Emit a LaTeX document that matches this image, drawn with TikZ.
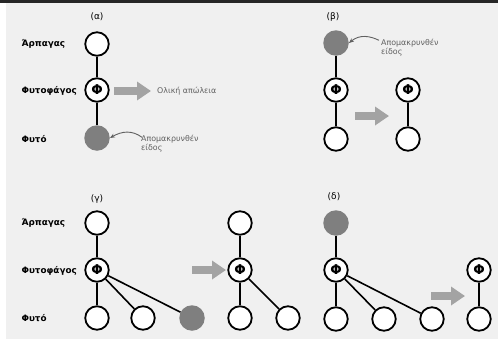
\documentclass[tikz,border=0pt]{standalone}
\usepackage{fontspec}
\setmainfont{DejaVu Sans}
\usetikzlibrary{arrows.meta}
\definecolor{bg}{HTML}{F0F0F0}
\definecolor{fillg}{HTML}{7F7F7F}
\definecolor{arrg}{HTML}{A3A3A3}
\definecolor{txtg}{HTML}{606060}
\tikzset{
  sp/.style={circle, draw=black, line width=1.8pt, minimum size=23.5pt, inner sep=0pt, fill=white},
  gone/.style={circle, fill=fillg, minimum size=25.5pt, inner sep=0pt},
  herb/.style={sp, font=\bfseries\fontsize{13.5}{13.5}\selectfont, text depth=0pt},
  lvl/.style={anchor=west, font=\bfseries\fontsize{8.8}{9}\selectfont},
  ptag/.style={font=\fontsize{9}{9}\selectfont},
  note/.style={anchor=west, align=left, text=txtg, font=\fontsize{7.9}{9}\selectfont, inner sep=0pt},
  link/.style={line width=1.6pt},
  bigarrow/.style={draw=arrg, line width=8pt, -{Triangle[length=14pt,width=18pt]}},
  curv/.style={draw=txtg, line width=0.9pt, -{Stealth[length=5pt,width=4pt]}}
}
\begin{document}
\begin{tikzpicture}[x=1pt,y=-1pt]
\useasboundingbox (0,0) rectangle (498,343);
\fill[white] (0,0) rectangle (498,343);
\fill[bg] (6,3) rectangle (498,339);
\fill[black!85] (0,0) rectangle (498,2.5);

% ---------- panel (a)
\node[ptag] (ta) at (97,17) {(α)};
\node[lvl] (la1) at (18,44) {Άρπαγας};
\node[lvl] (la2) at (18,91) {Φυτοφάγος};
\node[lvl] (la3) at (18,139) {Φυτό};
\node[sp] (a1) at (97,44) {};
\node[herb] (a2) at (97,90) {Φ};
\node[gone] (a3) at (97,138) {};
\draw[link] (a1) -- (a2);
\draw[link] (a2) -- (a3);
\coordinate (aas) at (114,91);
\coordinate (aae) at (151,91);
\draw[bigarrow] (aas) -- (aae);
\node[note] (ola) at (157,91) {Ολική απώλεια};
\node[note] (na) at (141,144) {Απομακρυνθέν\\είδος};
\draw[curv] (na.north west) ++(1,2) coordinate (nac) .. controls (132,130) and (122,131) .. (a3.east);

% ---------- panel (b)
\node[ptag] (tb) at (333,17) {(β)};
\node[gone] (b1) at (336,43) {};
\node[herb] (b2) at (336,90) {Φ};
\node[sp] (b3) at (336,139) {};
\draw[link] (b1) -- (b2);
\draw[link] (b2) -- (b3);
\node[herb] (b4) at (408,90) {Φ};
\node[sp] (b5) at (408,139) {};
\draw[link] (b4) -- (b5);
\coordinate (bas) at (355,116);
\coordinate (bae) at (389,116);
\draw[bigarrow] (bas) -- (bae);
\node[note] (nb) at (381,48) {Απομακρυνθέν\\είδος};
\draw[curv] (nb.north west) ++(-2,1) coordinate (nbc) .. controls (370,36) and (360,34) .. (b1.east);

% ---------- panel (c)
\node[ptag] (tc) at (97,199) {(γ)};
\node[lvl] (lc1) at (18,223) {Άρπαγας};
\node[lvl] (lc2) at (18,271) {Φυτοφάγος};
\node[lvl] (lc3) at (18,318) {Φυτό};
\node[sp] (c1) at (97,223) {};
\node[herb] (c2) at (97,270) {Φ};
\node[sp] (c3) at (97,318) {};
\node[sp] (c4) at (143,318) {};
\node[gone] (c5) at (192,318) {};
\draw[link] (c1) -- (c2);
\draw[link] (c2) -- (c3);
\draw[link] (c2) -- (c4);
\draw[link] (c2) -- (c5);
\coordinate (cas) at (192,270);
\coordinate (cae) at (226,270);
\draw[bigarrow] (cas) -- (cae);
\node[sp] (c6) at (240,223) {};
\node[herb] (c7) at (240,270) {Φ};
\node[sp] (c8) at (240,318) {};
\node[sp] (c9) at (288,318) {};
\draw[link] (c6) -- (c7);
\draw[link] (c7) -- (c8);
\draw[link] (c7) -- (c9);

% ---------- panel (d)
\node[ptag] (td) at (334,197) {(δ)};
\node[gone] (d1) at (336,223) {};
\node[herb] (d2) at (336,270) {Φ};
\node[sp] (d3) at (336,319) {};
\node[sp] (d4) at (384,319) {};
\node[sp] (d5) at (432,319) {};
\draw[link] (d1) -- (d2);
\draw[link] (d2) -- (d3);
\draw[link] (d2) -- (d4);
\draw[link] (d2) -- (d5);
\coordinate (das) at (431,296);
\coordinate (dae) at (465,296);
\draw[bigarrow] (das) -- (dae);
\node[herb] (d6) at (479,270) {Φ};
\node[sp] (d7) at (479,319) {};
\draw[link] (d6) -- (d7);
\end{tikzpicture}
\end{document}
